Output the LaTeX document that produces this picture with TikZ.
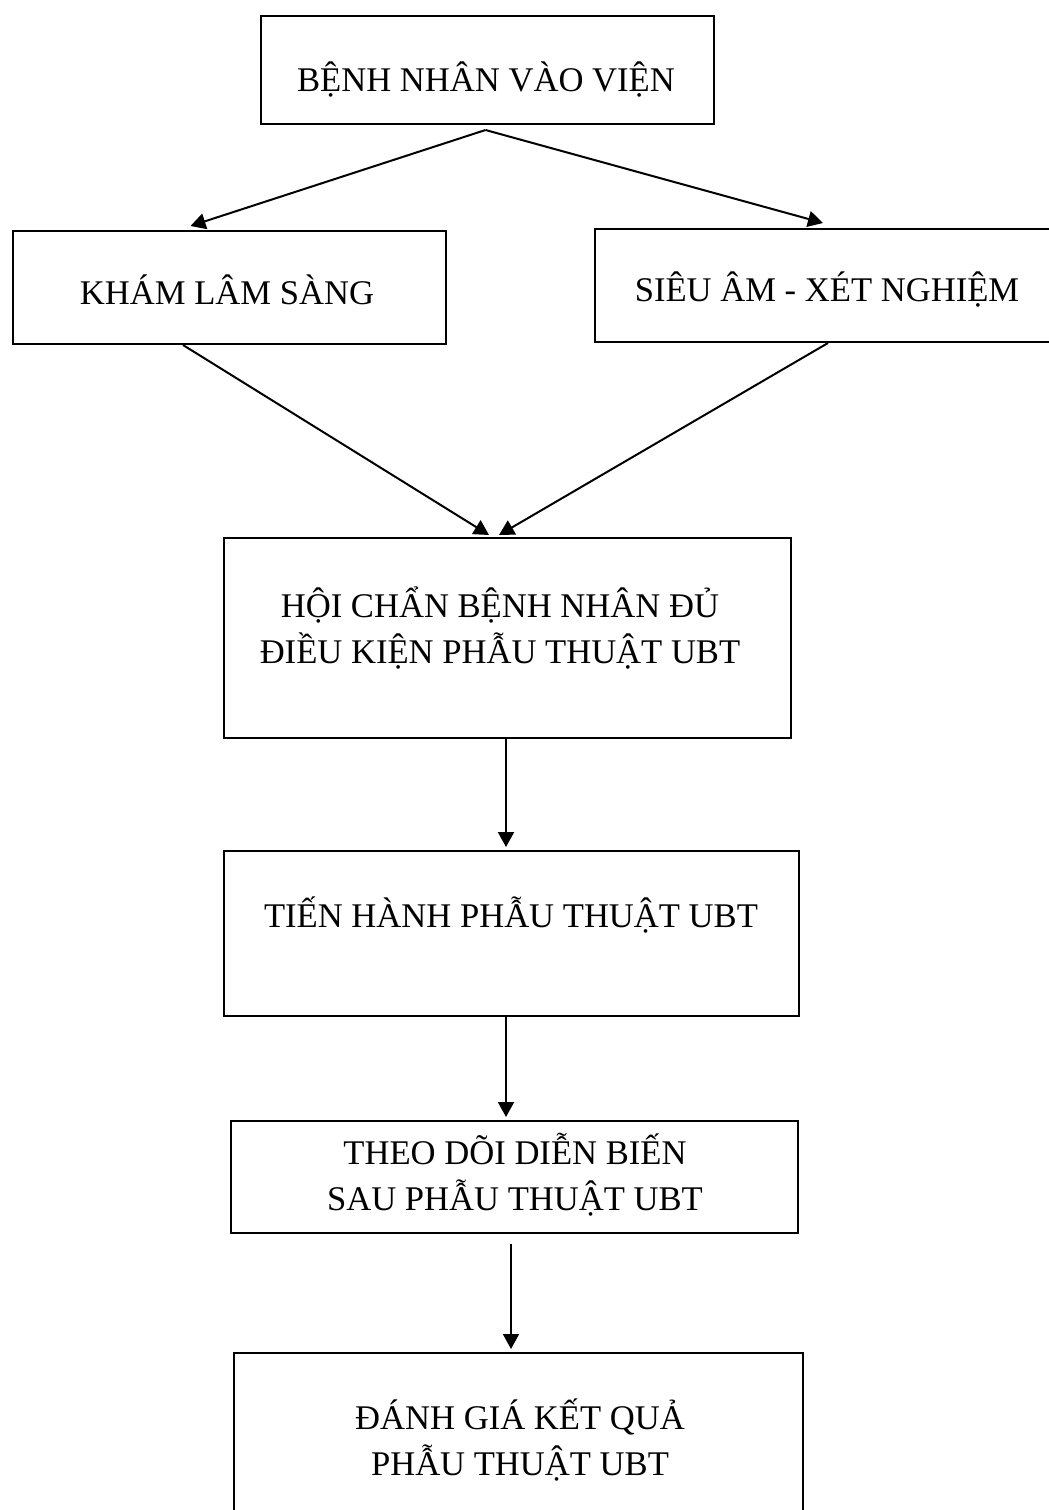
\documentclass[tikz,border=0pt]{standalone}
\usepackage{fontspec}
\setmainfont{Liberation Serif}
\usetikzlibrary{arrows.meta,calc}
\begin{document}
\begin{tikzpicture}[x=0.5pt,y=-0.5pt,
  box/.style={draw,line width=1pt,inner sep=0pt,anchor=north west},
  lbl/.style={inner sep=0pt,align=center,font=\fontsize{17.3}{23}\selectfont},
  arr/.style={line width=1pt,-{Triangle[length=7.5pt,width=8pt]}}]
\useasboundingbox (0,0) rectangle (1049,1510);
\clip (0,0) rectangle (1049,1510);
% boxes
\node[box,minimum width=226.5pt,minimum height=54pt] (b1) at (260,15) {};
\node[box,minimum width=216.5pt,minimum height=56.5pt] (b2) at (12,230) {};
\node[box,minimum width=240pt,minimum height=56.5pt] (b3) at (594,228) {};
\node[box,minimum width=283.5pt,minimum height=100pt] (b4) at (223,537) {};
\node[box,minimum width=287.5pt,minimum height=82.5pt] (b5) at (223,850) {};
\node[box,minimum width=283.5pt,minimum height=56pt] (b6) at (230,1120) {};
\node[box,minimum width=284.5pt,minimum height=100pt] (b7) at (233,1352) {};
% texts
\node[lbl] (t1) at (486,80) {BỆNH NHÂN VÀO VIỆN};
\node[lbl] (t2) at (227,290) {KHÁM LÂM SÀNG};
\node[lbl] (t3) at (827,289) {SIÊU ÂM - XÉT NGHIỆM};
\node[lbl] (t4) at (500,628) {HỘI CHẨN BỆNH NHÂN ĐỦ\\ĐIỀU KIỆN PHẪU THUẬT UBT};
\node[lbl] (t5) at (511,915) {TIẾN HÀNH PHẪU THUẬT UBT};
\node[lbl] (t6) at (515,1175) {THEO DÕI DIỄN BIẾN\\SAU PHẪU THUẬT UBT};
\node[lbl] (t7) at (520,1440) {ĐÁNH GIÁ KẾT QUẢ\\PHẪU THUẬT UBT};
% connector end points
\coordinate (s1) at ($(b1.south)+(-2,5)$);
\coordinate (e2) at ($(b2.north)+(-39,-4)$);
\coordinate (e3) at ($(b3.north)+(-12,-5)$);
\coordinate (s2) at ($(b2.south)+(-46.5,0)$);
\coordinate (s3) at ($(b3.south)+(-7,0)$);
\coordinate (e4a) at ($(b4.north)+(-18.5,-2)$);
\coordinate (e4b) at ($(b4.north)+(-8.5,-2)$);
\coordinate (s4) at ($(b4.south)+(-1.5,0)$);
\coordinate (e5) at ($(b5.north)+(-5.5,-3)$);
\coordinate (s5) at ($(b5.south)+(-5.5,0)$);
\coordinate (e6) at ($(b6.north)+(-8.5,-3)$);
\coordinate (s6) at ($(b6.south)+(-3.5,10)$);
\coordinate (e7) at ($(b7.north)+(-7.5,-3)$);
% connectors
\draw[arr] (s1) -- (e2);
\draw[arr] (s1) -- (e3);
\draw[arr] (s2) -- (e4a);
\draw[arr] (s3) -- (e4b);
\draw[arr] (s4) -- (e5);
\draw[arr] (s5) -- (e6);
\draw[arr] (s6) -- (e7);
\end{tikzpicture}
\end{document}
